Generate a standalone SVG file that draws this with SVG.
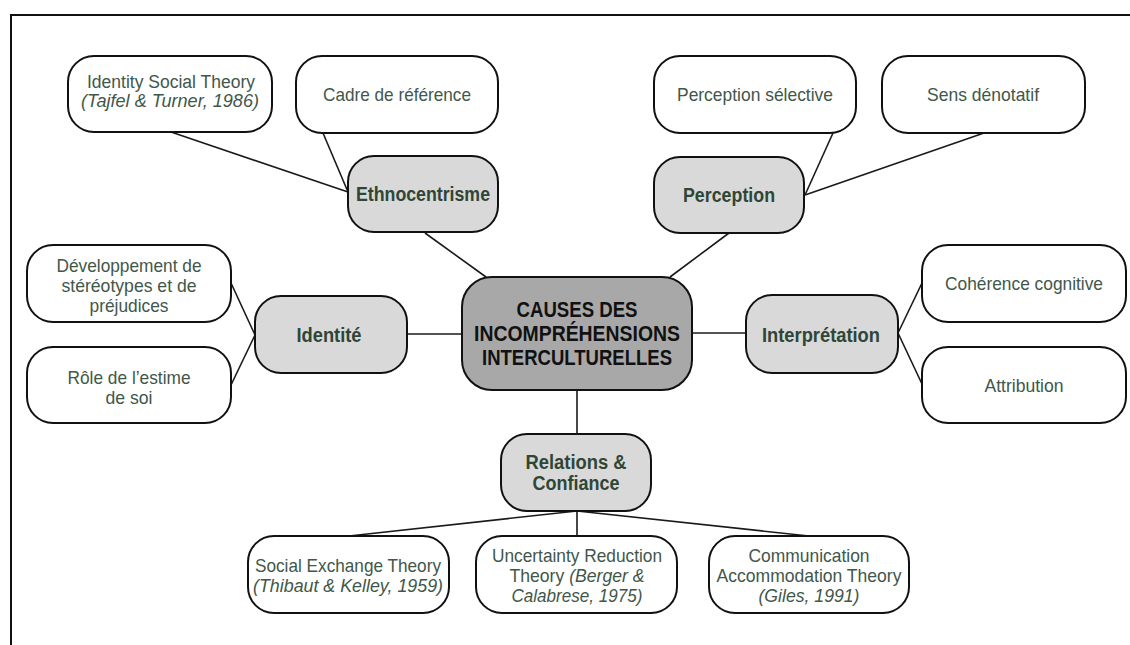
<svg xmlns="http://www.w3.org/2000/svg" width="1130" height="645" viewBox="0 0 1130 645">
  <style>
    .leaf { fill: #ffffff; stroke: #111111; stroke-width: 2; }
    .mid { fill: #d9d9d9; stroke: #111111; stroke-width: 2; }
    .core { fill: #a8a8a8; stroke: #111111; stroke-width: 2; }
    .link { stroke: #1a1a1a; stroke-width: 1.6; fill: none; }
    text { font-family: "Liberation Sans", Arial, sans-serif; text-anchor: middle; dominant-baseline: central; }
    .t { font-size: 19px; fill: #41574a; }
    .s { font-size: 18px; }
    .it { font-style: italic; }
    .b { font-size: 20px; font-weight: bold; fill: #2f4636; }
    .c { font-size: 22px; font-weight: bold; fill: #111111; }
  </style>

  <!-- frame -->
  <path d="M11 645 V15 H1130" fill="none" stroke="#111111" stroke-width="2"/>

  <g id="connectors">
    <line class="link" x1="171" y1="132" x2="348" y2="192"/>
    <line class="link" x1="323" y1="133" x2="348" y2="192"/>
    <line class="link" x1="425" y1="233" x2="486" y2="277"/>
    <line class="link" x1="833" y1="133" x2="805" y2="195"/>
    <line class="link" x1="984" y1="133" x2="805" y2="195"/>
    <line class="link" x1="729" y1="233" x2="670" y2="277"/>
    <line class="link" x1="231" y1="283" x2="255" y2="335"/>
    <line class="link" x1="231" y1="385" x2="255" y2="335"/>
    <line class="link" x1="407" y1="334" x2="462" y2="334"/>
    <line class="link" x1="692" y1="333" x2="746" y2="333"/>
    <line class="link" x1="898" y1="333" x2="922" y2="283"/>
    <line class="link" x1="898" y1="333" x2="922" y2="384"/>
    <line class="link" x1="577" y1="390" x2="577" y2="434"/>
    <line class="link" x1="577" y1="511" x2="349" y2="536"/>
    <line class="link" x1="577" y1="511" x2="577" y2="536"/>
    <line class="link" x1="577" y1="511" x2="809" y2="536"/>
  </g>

  <g id="center">
    <rect class="core" x="462" y="277" width="230" height="113" rx="30"/>
    <text class="c" x="577" y="309" textLength="121" lengthAdjust="spacingAndGlyphs">CAUSES DES</text>
    <text class="c" x="577" y="333" textLength="206" lengthAdjust="spacingAndGlyphs">INCOMPRÉHENSIONS</text>
    <text class="c" x="577" y="357" textLength="190" lengthAdjust="spacingAndGlyphs">INTERCULTURELLES</text>
  </g>

  <g id="ethnocentrisme">
    <rect class="mid" x="348" y="156" width="150" height="76" rx="26"/>
    <text class="b" x="423" y="194" textLength="134" lengthAdjust="spacingAndGlyphs">Ethnocentrisme</text>
  </g>
  <g id="identity-social-theory">
    <rect class="leaf" x="68" y="56" width="204" height="76" rx="26"/>
    <text class="t s" x="171" y="82" textLength="168" lengthAdjust="spacingAndGlyphs">Identity Social Theory</text>
    <text class="t s it" x="170" y="101" textLength="178" lengthAdjust="spacingAndGlyphs">(Tajfel &amp; Turner, 1986)</text>
  </g>
  <g id="cadre-de-reference">
    <rect class="leaf" x="296" y="56" width="202" height="77" rx="26"/>
    <text class="t" x="397" y="94" textLength="148" lengthAdjust="spacingAndGlyphs">Cadre de référence</text>
  </g>

  <g id="perception">
    <rect class="mid" x="654" y="157" width="150" height="76" rx="26"/>
    <text class="b" x="729" y="195" textLength="92" lengthAdjust="spacingAndGlyphs">Perception</text>
  </g>
  <g id="perception-selective">
    <rect class="leaf" x="654" y="56" width="202" height="77" rx="26"/>
    <text class="t" x="755" y="94" textLength="156" lengthAdjust="spacingAndGlyphs">Perception sélective</text>
  </g>
  <g id="sens-denotatif">
    <rect class="leaf" x="882" y="56" width="203" height="77" rx="26"/>
    <text class="t" x="983" y="94" textLength="112" lengthAdjust="spacingAndGlyphs">Sens dénotatif</text>
  </g>

  <g id="identite">
    <rect class="mid" x="255" y="296" width="152" height="77" rx="26"/>
    <text class="b" x="329" y="335" textLength="65" lengthAdjust="spacingAndGlyphs">Identité</text>
  </g>
  <g id="developpement">
    <rect class="leaf" x="27" y="245" width="204" height="77" rx="26"/>
    <text class="t" x="129" y="265" textLength="145" lengthAdjust="spacingAndGlyphs">Développement de</text>
    <text class="t" x="129" y="285" textLength="135" lengthAdjust="spacingAndGlyphs">stéréotypes et de</text>
    <text class="t" x="129" y="305" textLength="79" lengthAdjust="spacingAndGlyphs">préjudices</text>
  </g>
  <g id="role-estime">
    <rect class="leaf" x="27" y="347" width="204" height="76" rx="26"/>
    <text class="t" x="129" y="377" textLength="123" lengthAdjust="spacingAndGlyphs">Rôle de l’estime</text>
    <text class="t" x="129" y="397" textLength="47" lengthAdjust="spacingAndGlyphs">de soi</text>
  </g>

  <g id="interpretation">
    <rect class="mid" x="746" y="295" width="152" height="78" rx="26"/>
    <text class="b" x="821" y="335" textLength="118" lengthAdjust="spacingAndGlyphs">Interprétation</text>
  </g>
  <g id="coherence-cognitive">
    <rect class="leaf" x="922" y="245" width="204" height="77" rx="26"/>
    <text class="t" x="1024" y="283" textLength="158" lengthAdjust="spacingAndGlyphs">Cohérence cognitive</text>
  </g>
  <g id="attribution">
    <rect class="leaf" x="922" y="347" width="204" height="76" rx="26"/>
    <text class="t" x="1024" y="385" textLength="79" lengthAdjust="spacingAndGlyphs">Attribution</text>
  </g>

  <g id="relations-confiance">
    <rect class="mid" x="501" y="434" width="150" height="77" rx="26"/>
    <text class="b" x="576" y="462" textLength="101" lengthAdjust="spacingAndGlyphs">Relations &amp;</text>
    <text class="b" x="576" y="483" textLength="87" lengthAdjust="spacingAndGlyphs">Confiance</text>
  </g>
  <g id="social-exchange">
    <rect class="leaf" x="248" y="536" width="201" height="77" rx="26"/>
    <text class="t" x="348" y="565" textLength="186" lengthAdjust="spacingAndGlyphs">Social Exchange Theory</text>
    <text class="t it" x="348" y="585" textLength="190" lengthAdjust="spacingAndGlyphs">(Thibaut &amp; Kelley, 1959)</text>
  </g>
  <g id="uncertainty-reduction">
    <rect class="leaf" x="476" y="536" width="201" height="77" rx="26"/>
    <text class="t" x="577" y="555" textLength="170" lengthAdjust="spacingAndGlyphs">Uncertainty Reduction</text>
    <text class="t" x="577" y="575" textLength="135" lengthAdjust="spacingAndGlyphs">Theory <tspan class="it">(Berger &amp;</tspan></text>
    <text class="t it" x="577" y="595" textLength="131" lengthAdjust="spacingAndGlyphs">Calabrese, 1975)</text>
  </g>
  <g id="communication-accommodation">
    <rect class="leaf" x="709" y="536" width="200" height="77" rx="26"/>
    <text class="t" x="809" y="555" textLength="121" lengthAdjust="spacingAndGlyphs">Communication</text>
    <text class="t" x="809" y="575" textLength="185" lengthAdjust="spacingAndGlyphs">Accommodation Theory</text>
    <text class="t it" x="809" y="595" textLength="101" lengthAdjust="spacingAndGlyphs">(Giles, 1991)</text>
  </g>
</svg>
